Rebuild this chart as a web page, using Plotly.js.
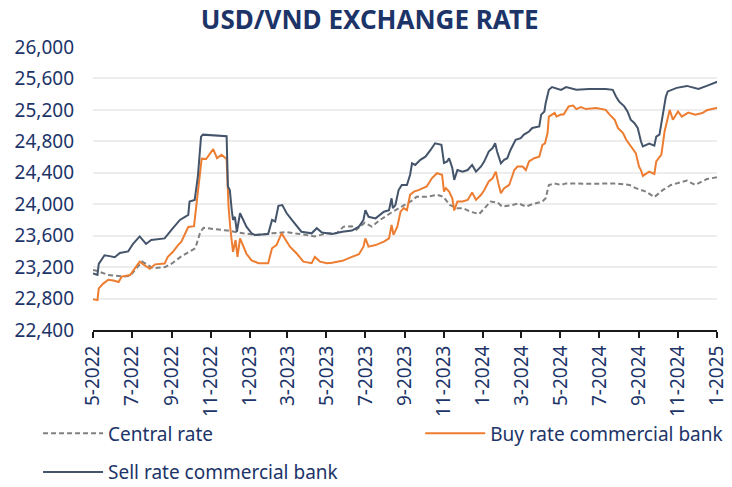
<!DOCTYPE html>
<html>
<head>
<meta charset="utf-8">
<script src="https://cdn.plot.ly/plotly-3.0.1.min.js"></script>
<style>html,body{margin:0;padding:0;background:#fff}#chart{width:732px;height:487px}</style>
</head>
<body>
<div id="chart"></div>
<script>
// ---- Data ----
const seriesNames = ["Central rate", "Buy rate commercial bank", "Sell rate commercial bank"];

const centralDates = ["2022-05-01","2022-05-08","2022-05-25","2022-06-18","2022-06-28","2022-07-17","2022-08-03","2022-08-22","2022-09-02","2022-09-15","2022-10-08","2022-10-16","2022-10-21","2022-11-27","2022-12-22","2023-01-11","2023-02-05","2023-02-28","2023-03-21","2023-04-13","2023-05-02","2023-05-17","2023-05-28","2023-06-10","2023-06-17","2023-06-30","2023-07-11","2023-07-24","2023-08-09","2023-08-27","2023-09-14","2023-09-19","2023-10-05","2023-10-21","2023-10-31","2023-11-10","2023-11-21","2023-12-01","2023-12-12","2023-12-26","2024-01-05","2024-01-13","2024-01-24","2024-01-31","2024-02-16","2024-02-26","2024-03-08","2024-03-18","2024-04-03","2024-04-08","2024-04-13","2024-04-22","2024-05-02","2024-05-10","2024-06-15","2024-07-27","2024-08-17","2024-08-27","2024-09-12","2024-09-25","2024-10-08","2024-10-21","2024-11-15","2024-11-28","2024-12-16","2024-12-31","2025-01-02"];
const centralValues = [23165,23150,23100,23080,23090,23270,23185,23200,23250,23330,23440,23650,23700,23665,23630,23610,23630,23645,23620,23590,23630,23630,23715,23720,23675,23765,23715,23800,23885,23970,24055,24095,24095,24120,24095,23990,23950,23950,23905,23875,23970,24035,24020,23970,23990,24010,23970,24000,24035,24075,24245,24265,24245,24265,24260,24265,24245,24205,24160,24090,24180,24245,24300,24245,24320,24350,24345];

const buyDates = ["2022-05-01","2022-05-08","2022-05-10","2022-05-17","2022-05-25","2022-06-02","2022-06-10","2022-06-15","2022-06-28","2022-07-03","2022-07-13","2022-07-21","2022-07-29","2022-08-06","2022-08-21","2022-08-26","2022-09-03","2022-09-11","2022-09-16","2022-09-27","2022-10-06","2022-10-10","2022-10-18","2022-10-25","2022-11-05","2022-11-11","2022-11-18","2022-11-26","2022-11-28","2022-11-29","2022-12-02","2022-12-06","2022-12-10","2022-12-13","2022-12-17","2022-12-22","2022-12-27","2023-01-04","2023-01-15","2023-01-30","2023-02-05","2023-02-12","2023-02-20","2023-02-25","2023-03-05","2023-03-16","2023-03-26","2023-04-08","2023-04-13","2023-04-21","2023-05-02","2023-05-10","2023-05-26","2023-06-10","2023-06-21","2023-06-28","2023-07-01","2023-07-06","2023-07-17","2023-07-30","2023-08-07","2023-08-11","2023-08-14","2023-08-20","2023-08-25","2023-08-30","2023-09-04","2023-09-09","2023-09-15","2023-09-22","2023-09-28","2023-10-05","2023-10-13","2023-10-21","2023-10-29","2023-11-01","2023-11-04","2023-11-09","2023-11-14","2023-11-17","2023-11-22","2023-11-30","2023-12-08","2023-12-15","2023-12-21","2023-12-29","2024-01-03","2024-01-10","2024-01-16","2024-01-21","2024-01-25","2024-01-29","2024-02-03","2024-02-11","2024-02-19","2024-02-24","2024-03-03","2024-03-08","2024-03-13","2024-03-21","2024-03-29","2024-04-03","2024-04-07","2024-04-11","2024-04-13","2024-04-22","2024-04-25","2024-05-02","2024-05-06","2024-05-14","2024-05-21","2024-05-26","2024-06-02","2024-06-10","2024-06-26","2024-07-11","2024-07-17","2024-07-25","2024-07-30","2024-08-07","2024-08-12","2024-08-19","2024-08-27","2024-09-01","2024-09-04","2024-09-07","2024-09-17","2024-09-25","2024-09-28","2024-10-06","2024-10-11","2024-10-19","2024-10-24","2024-11-01","2024-11-07","2024-11-17","2024-11-28","2024-12-09","2024-12-16","2024-12-31","2025-01-02"];
const buyValues = [22790,22780,22930,22990,23040,23030,23010,23080,23100,23160,23270,23220,23180,23235,23245,23330,23395,23480,23520,23710,23720,24010,24580,24575,24700,24585,24630,24575,24225,23970,23675,23395,23545,23330,23565,23460,23370,23285,23250,23250,23440,23480,23630,23565,23460,23370,23270,23250,23330,23270,23250,23255,23280,23330,23365,23460,23565,23460,23480,23525,23565,23735,23610,23715,23905,23950,23925,24120,24160,24180,24205,24225,24330,24395,24375,24160,24205,24160,24075,23920,24035,24035,24055,24150,24055,24120,24180,24290,24330,24415,24265,24140,24205,24245,24435,24480,24480,24435,24545,24585,24605,24755,24775,24905,25115,25160,25115,25140,25140,25245,25255,25210,25235,25210,25225,25200,25140,25075,24970,24905,24820,24735,24650,24480,24435,24360,24415,24385,24545,24630,24925,25200,25075,25180,25115,25165,25140,25160,25195,25225,25230];

const sellDates = ["2022-05-01","2022-05-08","2022-05-10","2022-05-19","2022-05-27","2022-06-04","2022-06-12","2022-06-25","2022-07-03","2022-07-13","2022-07-23","2022-07-31","2022-08-21","2022-08-26","2022-09-03","2022-09-14","2022-09-27","2022-09-29","2022-10-07","2022-10-12","2022-10-17","2022-10-20","2022-11-08","2022-11-26","2022-11-28","2022-12-01","2022-12-04","2022-12-06","2022-12-09","2022-12-12","2022-12-17","2022-12-22","2022-12-27","2023-01-04","2023-01-09","2023-01-30","2023-02-05","2023-02-10","2023-02-15","2023-02-21","2023-02-28","2023-03-08","2023-03-16","2023-03-23","2023-04-08","2023-04-16","2023-04-24","2023-05-02","2023-05-10","2023-05-26","2023-06-10","2023-06-21","2023-06-28","2023-07-01","2023-07-06","2023-07-17","2023-07-30","2023-08-07","2023-08-11","2023-08-13","2023-08-17","2023-08-22","2023-08-27","2023-09-04","2023-09-09","2023-09-12","2023-09-17","2023-09-25","2023-10-03","2023-10-11","2023-10-18","2023-10-28","2023-11-01","2023-11-06","2023-11-09","2023-11-14","2023-11-17","2023-11-22","2023-11-30","2023-12-08","2023-12-15","2023-12-21","2023-12-29","2024-01-03","2024-01-10","2024-01-16","2024-01-20","2024-01-23","2024-01-29","2024-02-03","2024-02-08","2024-02-13","2024-02-21","2024-02-29","2024-03-05","2024-03-13","2024-03-18","2024-03-29","2024-04-01","2024-04-06","2024-04-08","2024-04-13","2024-04-18","2024-05-02","2024-05-10","2024-05-26","2024-06-15","2024-07-11","2024-07-22","2024-07-27","2024-08-01","2024-08-09","2024-08-14","2024-08-19","2024-08-25","2024-08-30","2024-09-02","2024-09-04","2024-09-07","2024-09-17","2024-09-25","2024-09-28","2024-10-03","2024-10-09","2024-10-13","2024-10-16","2024-10-30","2024-11-15","2024-11-25","2024-12-03","2024-12-16","2024-12-31","2025-01-02"];
const sellValues = [23120,23100,23240,23350,23340,23325,23380,23400,23500,23590,23495,23545,23565,23610,23695,23800,23865,24035,24055,24350,24860,24885,24875,24865,24225,24180,23925,23800,23840,23650,23885,23800,23715,23630,23610,23620,23800,23780,23980,23990,23885,23800,23725,23650,23630,23695,23640,23630,23620,23650,23665,23715,23800,23925,23840,23820,23905,23925,24075,23950,23990,24180,24245,24245,24375,24520,24500,24565,24605,24690,24775,24755,24525,24545,24585,24460,24310,24435,24415,24435,24500,24415,24480,24545,24670,24715,24775,24670,24520,24565,24585,24690,24820,24840,24885,24925,24970,24990,25140,25180,25285,25455,25490,25455,25490,25455,25465,25465,25455,25370,25305,25245,25180,25075,25030,24970,24840,24800,24735,24770,24745,24860,24885,25160,25370,25435,25480,25505,25480,25465,25505,25550,25560];

const xTickVals = ["2022-05-01","2022-07-01","2022-09-01","2022-11-01","2023-01-01","2023-03-01","2023-05-01","2023-07-01","2023-09-01","2023-11-01","2024-01-01","2024-03-01","2024-05-01","2024-07-01","2024-09-01","2024-11-01","2025-01-01"];
const xTickText = ["5-2022","7-2022","9-2022","11-2022","1-2023","3-2023","5-2023","7-2023","9-2023","11-2023","1-2024","3-2024","5-2024","7-2024","9-2024","11-2024","1-2025"];
const yTickVals = [22400,22800,23200,23600,24000,24400,24800,25200,25600,26000];

// ---- Styling ----
const navy = "#1c3468";
const font = "Noto Sans, DejaVu Sans, sans-serif";

const traces = [
  {x: centralDates, y: centralValues, name: seriesNames[0], type: "scatter", mode: "lines",
   line: {color: "#808080", width: 2, dash: "5px,3px"}, legend: "legend", legendgroup: "a"},
  {x: buyDates, y: buyValues, name: seriesNames[1], type: "scatter", mode: "lines",
   line: {color: "#ed7d31", width: 2}, legend: "legend2", legendgroup: "b"},
  {x: sellDates, y: sellValues, name: seriesNames[2], type: "scatter", mode: "lines",
   line: {color: "#44546a", width: 2}, legend: "legend", legendgroup: "c"}
];

const layout = {
  width: 732, height: 487,
  margin: {l: 93, r: 15, t: 47, b: 157, autoexpand: false},
  paper_bgcolor: "#fff", plot_bgcolor: "#fff",
  font: {family: font, color: navy, size: 19},
  title: {text: "USD/VND EXCHANGE RATE", font: {family: font, size: 26, weight: "bold", color: navy},
          x: 0.505, xref: "container", xanchor: "center", y: 0.96, yref: "container", yanchor: "middle"},
  xaxis: {type: "date", range: ["2022-05-01", "2025-01-01"], tickvals: xTickVals, ticktext: xTickText,
          tickangle: -90, showgrid: false, zeroline: false, showline: true, linecolor: "#1a1a1a", linewidth: 2,
          ticks: "outside", ticklen: 6, tickwidth: 2, tickcolor: "#1a1a1a", automargin: false,
          tickfont: {family: font, size: 19, color: navy}},
  yaxis: {range: [22400, 26000], tickvals: yTickVals, tickformat: ",d", showgrid: true, gridcolor: "#ededed", gridwidth: 2,
          zeroline: false, showline: false, ticks: "", ticklabelstandoff: 18, automargin: false,
          tickfont: {family: font, size: 19, color: navy}},
  showlegend: true,
  legend: {orientation: "v", xref: "container", yref: "container", x: 0.052, y: 0.149, xanchor: "left", yanchor: "top",
           tracegroupgap: 11, itemwidth: 60, font: {family: font, size: 19, color: navy}, bgcolor: "rgba(0,0,0,0)"},
  legend2: {orientation: "v", xref: "container", yref: "container", x: 0.574, y: 0.149, xanchor: "left", yanchor: "top",
            itemwidth: 60, font: {family: font, size: 19, color: navy}, bgcolor: "rgba(0,0,0,0)"}
};

Plotly.newPlot("chart", traces, layout, {displayModeBar: false, staticPlot: true});
</script>
</body>
</html>
